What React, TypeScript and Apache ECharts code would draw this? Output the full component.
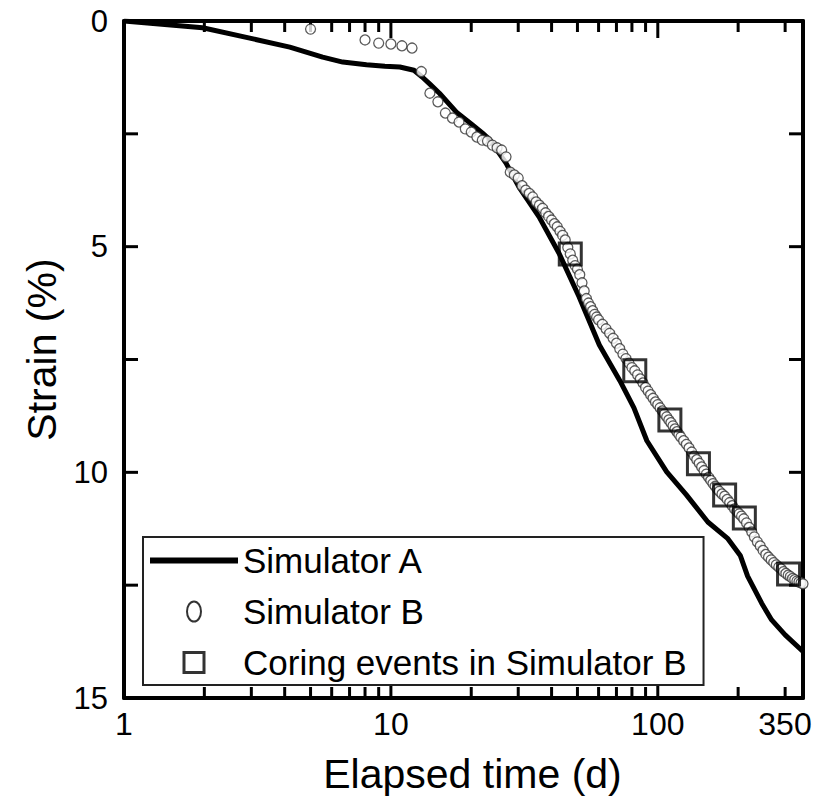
import React, { useEffect, useRef } from "react";
import * as echarts from "echarts";

// ---- Data ----
const simADays = [1, 1.97, 2.96, 4.18, 5.55, 6.6, 8.1, 9.5, 10.8, 12.2, 13.1, 14.0, 15.2, 17.6, 20.0, 22.0, 23.4, 27.0, 30.2, 35.9, 42.6, 50.7, 60.4, 72.1, 81.4, 91.0, 108, 128, 154, 183, 204, 217, 245, 267, 300, 350];
const simAStrain = [0, 0.15, 0.38, 0.58, 0.8, 0.91, 0.97, 1.0, 1.02, 1.09, 1.24, 1.4, 1.6, 2.02, 2.28, 2.48, 2.62, 3.15, 3.68, 4.34, 5.14, 6.11, 7.18, 7.97, 8.57, 9.3, 9.99, 10.5, 11.1, 11.47, 11.85, 12.3, 12.9, 13.27, 13.6, 13.97];

const simBDays = [5, 8, 9, 10, 11, 12, 13, 14, 15, 16, 17, 18, 19, 20, 21, 22, 23, 24, 25, 26, 27, 28, 29, 30, 31, 32, 33, 34, 35, 36, 37, 38, 39, 40, 41, 42, 43, 44, 45, 46, 47, 48, 49, 50, 51, 52, 53, 54, 55, 56, 57, 58, 59, 60, 62, 64, 66, 68, 70, 72, 74, 76, 78, 80, 82, 84, 86, 88, 90, 92, 94, 96, 98, 100, 102, 104, 106, 108, 110, 112, 114, 116, 118, 120, 122, 125, 128, 131, 134, 137, 140, 143, 146, 149, 152, 155, 158, 161, 164, 167, 170, 174, 178, 182, 186, 190, 194, 198, 202, 206, 210, 215, 220, 225, 230, 236, 242, 248, 254, 260, 266, 272, 278, 284, 290, 296, 302, 308, 314, 320, 326, 332, 338, 344, 350];
const simBStrain = [0.18, 0.42, 0.49, 0.51, 0.55, 0.6, 1.12, 1.6, 1.79, 2.04, 2.15, 2.24, 2.39, 2.46, 2.57, 2.64, 2.66, 2.75, 2.81, 2.86, 3.01, 3.35, 3.41, 3.48, 3.65, 3.75, 3.82, 3.9, 4.01, 4.08, 4.15, 4.25, 4.33, 4.41, 4.49, 4.56, 4.66, 4.75, 4.85, 5.02, 5.16, 5.3, 5.42, 5.5, 5.62, 5.8, 5.98, 6.15, 6.25, 6.33, 6.42, 6.5, 6.56, 6.62, 6.72, 6.82, 6.92, 7.03, 7.14, 7.26, 7.38, 7.48, 7.58, 7.68, 7.75, 7.84, 7.93, 8.02, 8.12, 8.2, 8.28, 8.36, 8.44, 8.5, 8.57, 8.64, 8.71, 8.77, 8.84, 8.9, 8.97, 9.04, 9.1, 9.16, 9.22, 9.3, 9.38, 9.46, 9.55, 9.64, 9.72, 9.8, 9.88, 9.96, 10.04, 10.11, 10.18, 10.25, 10.31, 10.37, 10.42, 10.48, 10.53, 10.6, 10.67, 10.74, 10.81, 10.87, 10.92, 10.97, 11.03, 11.12, 11.22, 11.32, 11.43, 11.54, 11.63, 11.73, 11.82, 11.88, 11.94, 12.0, 12.05, 12.1, 12.14, 12.2, 12.24, 12.28, 12.31, 12.35, 12.38, 12.41, 12.43, 12.45, 12.47];

const coringDays = [47, 82, 111, 142, 178, 211, 309];
const coringStrain = [5.16, 7.75, 8.84, 9.81, 10.5, 11.01, 12.25];

const xTickLabels = [1, 10, 100, 350];
const xMajorTicks = [10, 100];
const xMinorTicks = [2, 3, 4, 5, 6, 7, 8, 9, 20, 30, 40, 50, 60, 70, 80, 90, 200, 300];
const yTickValues = [2.5, 5, 7.5, 10, 12.5];

const FONT = '"Liberation Sans", Arial, Helvetica, sans-serif';
const X_MIN = 1;
const X_MAX = 350;
const Y_MIN = 0;
const Y_MAX = 15;

function zip(a: number[], b: number[]) {
  return a.map((v, i) => [v, b[i]]);
}

// tick marks drawn at data values through the axes' own scales
function xTickSeries(values: number[], bottomLen: number, topLen: number) {
  return {
    type: "custom",
    xAxisIndex: 0,
    yAxisIndex: 0,
    silent: true,
    clip: false,
    z: 1,
    data: values.map((v) => [v, Y_MAX]),
    encode: { x: 0, y: 1 },
    renderItem: (_params: any, api: any) => {
      const v = api.value(0);
      const b = api.coord([v, Y_MAX]);
      const t = api.coord([v, Y_MIN]);
      return {
        type: "group",
        children: [
          { type: "rect", shape: { x: b[0] - 1.5, y: b[1] - bottomLen, width: 3, height: bottomLen }, style: { fill: "#000" } },
          { type: "rect", shape: { x: t[0] - 1.5, y: t[1], width: 3, height: topLen }, style: { fill: "#000" } },
        ],
      };
    },
  };
}

function yTickSeries(values: number[], len: number) {
  return {
    type: "custom",
    xAxisIndex: 0,
    yAxisIndex: 0,
    silent: true,
    clip: false,
    z: 1,
    data: values.map((v) => [X_MIN, v]),
    encode: { x: 0, y: 1 },
    renderItem: (_params: any, api: any) => {
      const v = api.value(1);
      const l = api.coord([X_MIN, v]);
      const r = api.coord([X_MAX, v]);
      return {
        type: "group",
        children: [
          { type: "rect", shape: { x: l[0], y: l[1] - 1.5, width: len, height: 3 }, style: { fill: "#000" } },
          { type: "rect", shape: { x: r[0] - len, y: r[1] - 1.5, width: len, height: 3 }, style: { fill: "#000" } },
        ],
      };
    },
  };
}

export default function App() {
  const ref = useRef<HTMLDivElement>(null);

  useEffect(() => {
    if (!ref.current) return;
    const chart = echarts.init(ref.current, null, { renderer: "svg" });

    const xBase = {
      type: "log" as const,
      logBase: 10,
      min: X_MIN,
      max: X_MAX,
      splitLine: { show: false },
      minorTick: { show: false },
      axisTick: { show: false },
    };
    const yBase = {
      type: "value" as const,
      inverse: true,
      min: Y_MIN,
      max: Y_MAX,
      interval: 5,
      splitLine: { show: false },
      axisTick: { show: false },
    };
    const axisLineStyle = { color: "#000", width: 4 };

    chart.setOption({
      animation: false,
      backgroundColor: "#fff",
      grid: { left: 124, right: 14, top: 21, bottom: 101, containLabel: false, outerBoundsMode: "none" },
      xAxis: [
        {
          ...xBase,
          position: "bottom",
          axisLine: { show: true, onZero: false, lineStyle: axisLineStyle },
          axisLabel: {
            show: true,
            customValues: xTickLabels,
            margin: 10,
            color: "#000",
            fontFamily: FONT,
            fontSize: 32,
            formatter: (v: number) => (Math.round(v) === 350 ? "{r|350}" : String(Math.round(v))),
            rich: { r: { fontFamily: FONT, fontSize: 32, color: "#000", padding: [0, 36, 0, 0] } },
          },
          name: "Elapsed time (d)",
          nameLocation: "middle",
          nameGap: 55,
          nameTextStyle: { color: "#000", fontFamily: FONT, fontSize: 41, padding: [0, 0, 0, 18] },
        },
        {
          ...xBase,
          position: "top",
          axisLine: { show: true, onZero: false, lineStyle: axisLineStyle },
          axisLabel: { show: false },
        },
      ],
      yAxis: [
        {
          ...yBase,
          position: "left",
          axisLine: { show: true, onZero: false, lineStyle: axisLineStyle },
          axisLabel: { show: true, margin: 16, color: "#000", fontFamily: FONT, fontSize: 31 },
          name: "Strain (%)",
          nameLocation: "middle",
          nameGap: 62,
          nameTextStyle: { color: "#000", fontFamily: FONT, fontSize: 41, padding: [0, 0, 0, 20] },
        },
        {
          ...yBase,
          position: "right",
          axisLine: { show: true, onZero: false, lineStyle: axisLineStyle },
          axisLabel: { show: false },
        },
      ],
      legend: {
        orient: "vertical",
        left: 143,
        top: 537,
        itemWidth: 88,
        itemHeight: 20,
        itemGap: 16,
        padding: [6, 17, 5, 7],
        backgroundColor: "#fff",
        borderColor: "#222",
        borderWidth: 2,
        selectedMode: false,
        z: 10,
        textStyle: { color: "#000", fontFamily: FONT, fontSize: 35, lineHeight: 30 },
        data: [
          { name: "Simulator A", icon: "path://M0,0H88V6H0Z", itemStyle: { color: "#000", borderWidth: 0 } },
          {
            name: "Simulator B",
            icon: "path://M7,0A7,10 0 1,1 7,20A7,10 0 1,1 7,0Z",
            itemStyle: { color: "#fff", borderColor: "#000", borderWidth: 2 },
          },
          {
            name: "Coring events in Simulator B",
            icon: "path://M0,0H20V20H0Z",
            itemStyle: { color: "rgba(0,0,0,0)", borderColor: "#000", borderWidth: 3 },
          },
        ],
      },
      series: [
        xTickSeries(xMajorTicks, 22, 17),
        xTickSeries(xMinorTicks, 11, 11),
        yTickSeries(yTickValues, 14),
        {
          name: "Simulator A",
          type: "line",
          xAxisIndex: 0,
          yAxisIndex: 0,
          data: zip(simADays, simAStrain),
          symbol: "none",
          smooth: false,
          itemStyle: { color: "#000" },
          lineStyle: { color: "#000", width: 5 },
          z: 2,
        },
        {
          name: "Simulator B",
          type: "scatter",
          xAxisIndex: 0,
          yAxisIndex: 0,
          data: zip(simBDays, simBStrain),
          symbol: "circle",
          symbolSize: 10,
          itemStyle: { color: "#fff", borderColor: "#333", borderWidth: 1.3 },
          z: 3,
        },
        {
          name: "Coring events in Simulator B",
          type: "scatter",
          xAxisIndex: 0,
          yAxisIndex: 0,
          data: zip(coringDays, coringStrain),
          symbol: "rect",
          symbolSize: 22,
          itemStyle: { color: "rgba(0,0,0,0)", borderColor: "#000", borderWidth: 3 },
          z: 4,
        },
      ],
    });

    return () => {
      chart.dispose();
    };
  }, []);

  return (
    <div
      ref={ref}
      style={{ position: "fixed", left: 0, top: 0, width: 817, height: 799, background: "#fff" }}
    />
  );
}
